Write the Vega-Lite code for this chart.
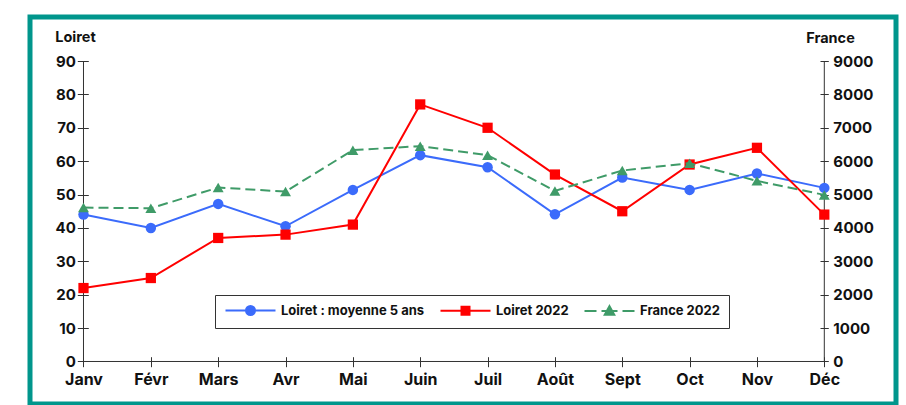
{
  "$schema": "https://vega.github.io/schema/vega-lite/v6.json",
  "width": 866,
  "height": 387,
  "padding": {"left": 30, "top": 17, "right": 10, "bottom": 1},
  "autosize": {"type": "none"},
  "background": "#ffffff",
  "config": {
    "view": {"stroke": "#00968c", "strokeWidth": 5, "fill": "#ffffff"},
    "font": "Inter",
    "axis": {
      "domain": false,
      "grid": false,
      "tickColor": "#333333",
      "tickWidth": 1,
      "labelColor": "#111111",
      "labelFont": "Inter",
      "labelFontWeight": "bold",
      "titleFont": "Inter",
      "titleFontWeight": "bold",
      "titleColor": "#111111"
    }
  },
  "datasets": {
    "axes": [{"axe": "x"}],
    "main": [
      {"month": "Janv", "serie": "Loiret : moyenne 5 ans", "value": 44},
      {"month": "Févr", "serie": "Loiret : moyenne 5 ans", "value": 40},
      {"month": "Mars", "serie": "Loiret : moyenne 5 ans", "value": 47.2},
      {"month": "Avr", "serie": "Loiret : moyenne 5 ans", "value": 40.5},
      {"month": "Mai", "serie": "Loiret : moyenne 5 ans", "value": 51.4},
      {"month": "Juin", "serie": "Loiret : moyenne 5 ans", "value": 61.8},
      {"month": "Juil", "serie": "Loiret : moyenne 5 ans", "value": 58.2},
      {"month": "Août", "serie": "Loiret : moyenne 5 ans", "value": 44.1},
      {"month": "Sept", "serie": "Loiret : moyenne 5 ans", "value": 55.1},
      {"month": "Oct", "serie": "Loiret : moyenne 5 ans", "value": 51.4},
      {"month": "Nov", "serie": "Loiret : moyenne 5 ans", "value": 56.3},
      {"month": "Déc", "serie": "Loiret : moyenne 5 ans", "value": 52},
      {"month": "Janv", "serie": "Loiret 2022", "value": 22},
      {"month": "Févr", "serie": "Loiret 2022", "value": 25},
      {"month": "Mars", "serie": "Loiret 2022", "value": 37},
      {"month": "Avr", "serie": "Loiret 2022", "value": 38},
      {"month": "Mai", "serie": "Loiret 2022", "value": 41},
      {"month": "Juin", "serie": "Loiret 2022", "value": 77},
      {"month": "Juil", "serie": "Loiret 2022", "value": 70},
      {"month": "Août", "serie": "Loiret 2022", "value": 56},
      {"month": "Sept", "serie": "Loiret 2022", "value": 45},
      {"month": "Oct", "serie": "Loiret 2022", "value": 59},
      {"month": "Nov", "serie": "Loiret 2022", "value": 64},
      {"month": "Déc", "serie": "Loiret 2022", "value": 44},
      {"month": "Janv", "serie": "France 2022", "value": 4610},
      {"month": "Févr", "serie": "France 2022", "value": 4590},
      {"month": "Mars", "serie": "France 2022", "value": 5210},
      {"month": "Avr", "serie": "France 2022", "value": 5090},
      {"month": "Mai", "serie": "France 2022", "value": 6330},
      {"month": "Juin", "serie": "France 2022", "value": 6450},
      {"month": "Juil", "serie": "France 2022", "value": 6180},
      {"month": "Août", "serie": "France 2022", "value": 5110},
      {"month": "Sept", "serie": "France 2022", "value": 5720},
      {"month": "Oct", "serie": "France 2022", "value": 5940},
      {"month": "Nov", "serie": "France 2022", "value": 5410},
      {"month": "Déc", "serie": "France 2022", "value": 4990}
    ]
  },
  "data": {"name": "main"},
  "encoding": {
    "x": {
      "field": "month",
      "type": "ordinal",
      "sort": ["Janv", "Févr", "Mars", "Avr", "Mai", "Juin", "Juil", "Août", "Sept", "Oct", "Nov", "Déc"],
      "scale": {
        "type": "point",
        "domain": ["Janv", "Févr", "Mars", "Avr", "Mai", "Juin", "Juil", "Août", "Sept", "Oct", "Nov", "Déc"],
        "padding": 0.9295,
        "align": 0.4273
      },
      "axis": {
        "orient": "bottom",
        "offset": -47.3,
        "tickSize": 10,
        "labelPadding": 5,
        "labelFontSize": 16,
        "labelAngle": 0,
        "title": null
      }
    }
  },
  "layer": [
    {
      "transform": [{"filter": "false"}],
      "mark": {"type": "point", "size": 100, "filled": true, "opacity": 1, "strokeWidth": 2},
      "encoding": {
        "color": {
          "field": "serie",
          "type": "nominal",
          "scale": {
            "domain": ["Loiret : moyenne 5 ans", "Loiret 2022", "France 2022"],
            "range": ["#3b6bfb", "#ff0000", "#3f9b68"]
          },
          "legend": {
            "title": null,
            "orient": "none",
            "legendX": 185,
            "legendY": 278,
            "direction": "horizontal",
            "strokeColor": "#333333",
            "fillColor": "#ffffff",
            "padding": 9,
            "symbolSize": 100,
            "symbolStrokeWidth": 2,
            "symbolOpacity": 1,
            "labelOffset": 44,
            "columnPadding": 11,
            "labelFont": "Inter",
            "labelFontSize": 13,
            "labelFontWeight": "bold",
            "labelColor": "#111111",
            "labelLimit": 300
          }
        },
        "shape": {
          "field": "serie",
          "type": "nominal",
          "scale": {
            "domain": ["Loiret : moyenne 5 ans", "Loiret 2022", "France 2022"],
            "range": [
              "M-1,0H9M4.9,0C4.9,0.497,4.497,0.9,4,0.9C3.503,0.9,3.1,0.497,3.1,0C3.1,-0.497,3.503,-0.9,4,-0.9C4.497,-0.9,4.9,-0.497,4.9,0Z",
              "M-1,0H9M3.2,-0.8H4.8V0.8H3.2Z",
              "M-1,0H1.4M2.4,0H5.6M6.6,0H9M4,-0.95L4.95,0.75H3.05Z"
            ]
          },
          "legend": {
            "title": null,
            "orient": "none",
            "legendX": 185,
            "legendY": 278,
            "direction": "horizontal",
            "strokeColor": "#333333",
            "fillColor": "#ffffff",
            "padding": 9,
            "symbolSize": 100,
            "symbolStrokeWidth": 2,
            "symbolOpacity": 1,
            "labelOffset": 44,
            "columnPadding": 11,
            "labelFont": "Inter",
            "labelFontSize": 13,
            "labelFontWeight": "bold",
            "labelColor": "#111111",
            "labelLimit": 300
          }
        }
      }
    },
    {
      "data": {"name": "axes"},
      "encoding": {
        "y": {"datum": 0, "type": "quantitative", "scale": {"domain": [-12.73, 103.18], "nice": false, "zero": false}, "axis": null}
      },
      "layer": [
        {
          "mark": {"type": "rule", "color": "#333333", "strokeWidth": 1},
          "encoding": {
            "x": {"datum": "Janv", "type": "ordinal"},
            "x2": {"datum": "Déc"},
            "y2": {"datum": 0}
          }
        },
        {
          "mark": {"type": "rule", "color": "#333333", "strokeWidth": 1},
          "encoding": {
            "x": {"datum": "Janv", "type": "ordinal"},
            "y2": {"datum": 90}
          }
        },
        {
          "mark": {"type": "rule", "color": "#333333", "strokeWidth": 1},
          "encoding": {
            "x": {"datum": "Déc", "type": "ordinal"},
            "y2": {"datum": 90}
          }
        }
      ]
    },
    {
      "transform": [{"filter": "datum.serie !== 'France 2022'"}],
      "encoding": {
        "y": {
          "field": "value",
          "type": "quantitative",
          "scale": {"domain": [-12.73, 103.18], "nice": false, "zero": false},
          "axis": {
            "orient": "left",
            "offset": -58.3,
            "values": [0, 10, 20, 30, 40, 50, 60, 70, 80, 90],
            "tickSize": 11,
            "labelPadding": 2,
            "labelFontSize": 15,
            "title": "Loiret",
            "titleAngle": 0,
            "titleX": -13.3,
            "titleY": 20.5,
            "titleAlign": "center",
            "titleBaseline": "middle",
            "titleFontSize": 14.5
          }
        },
        "color": {"field": "serie", "type": "nominal"}
      },
      "layer": [
        {
          "mark": {"type": "line", "strokeWidth": 2}
        },
        {
          "transform": [{"filter": "datum.serie === 'Loiret : moyenne 5 ans'"}],
          "mark": {"type": "point", "filled": true, "opacity": 1, "size": 110, "shape": "circle"}
        },
        {
          "transform": [{"filter": "datum.serie === 'Loiret 2022'"}],
          "mark": {"type": "point", "filled": true, "opacity": 1, "size": 105, "shape": "square"}
        }
      ]
    },
    {
      "transform": [{"filter": "datum.serie === 'France 2022'"}],
      "encoding": {
        "y": {
          "field": "value",
          "type": "quantitative",
          "scale": {"domain": [-1273, 10318], "nice": false, "zero": false},
          "axis": {
            "orient": "right",
            "offset": -76,
            "values": [0, 1000, 2000, 3000, 4000, 5000, 6000, 7000, 8000, 9000],
            "format": "d",
            "tickSize": 8.3,
            "labelPadding": 4.5,
            "labelFontSize": 15,
            "title": "France",
            "titleAngle": 0,
            "titleX": 10,
            "titleY": 21,
            "titleAlign": "center",
            "titleBaseline": "middle",
            "titleFontSize": 14.5
          }
        },
        "color": {"field": "serie", "type": "nominal"}
      },
      "layer": [
        {
          "mark": {"type": "line", "strokeWidth": 2, "strokeDash": [10, 5]}
        },
        {
          "mark": {"type": "point", "filled": true, "opacity": 1, "size": 120, "shape": "triangle-up"}
        }
      ]
    }
  ],
  "resolve": {"scale": {"y": "independent"}}
}
